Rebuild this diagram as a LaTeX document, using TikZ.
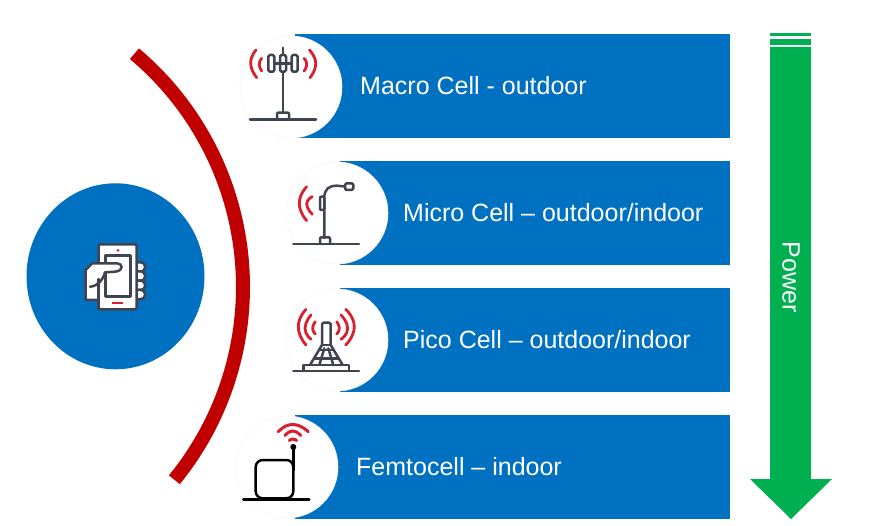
\documentclass[tikz,border=0pt]{standalone}
\usepackage{fontspec}
\usetikzlibrary{shapes.geometric}
\setmainfont{Liberation Sans}
\definecolor{bandblue}{HTML}{0070C0}
\definecolor{arcred}{HTML}{C00000}
\definecolor{powergreen}{HTML}{00B050}
\definecolor{iconred}{HTML}{D9202E}
\definecolor{icongray}{HTML}{3F4450}
\tikzset{
  band/.style={fill=bandblue,draw=none,inner sep=0pt,minimum height=104pt,anchor=west,text width=0pt},
  disc/.style={circle,fill=white,draw=black!4,line width=.6pt,inner sep=0pt,minimum size=102pt},
  bandtext/.style={text=white,font=\fontsize{25pt}{28pt}\selectfont,inner sep=0pt,anchor=west},
  wave/.style={draw=iconred,line width=2.8pt,line cap=round,smooth,tension=1},
  wire/.style={draw=icongray,line width=2.5pt,line cap=round,line join=round},
  blackwire/.style={draw=black,line width=2.5pt,line cap=round,line join=round},
}
\begin{document}
\begin{tikzpicture}[x=1pt,y=-1pt]
\useasboundingbox (0,0) rectangle (891,526);
\fill[white] (0,0) rectangle (891,526);
% hub
\node[ellipse,fill=bandblue,inner sep=0pt,minimum width=178pt,minimum height=186pt] (hub) at (115.5,276.3) {};
% red arc
\draw[arcred,line width=14pt] plot[domain=-49.9:39.2,samples=80,smooth] ({-62+305*cos(\x)},{287+305*sin(\x)});
% bands
\node[band,minimum width=435pt] (b1) at (295,86) {};
\node[band,minimum width=390pt] (b2) at (340,213) {};
\node[band,minimum width=390pt] (b3) at (340,340) {};
\node[band,minimum width=435pt] (b4) at (295,467) {};
\node[disc] (c1) at (291,87) {};
\node[disc] (c2) at (337,213) {};
\node[disc] (c3) at (337,340) {};
\node[disc] (c4) at (287,467) {};
\node[bandtext] (t1) at (360,85.5) {Macro Cell - outdoor};
\node[bandtext] (t2) at (403,212.5) {Micro Cell – outdoor/indoor};
\node[bandtext] (t3) at (403,339.5) {Pico Cell – outdoor/indoor};
\node[bandtext] (t4) at (356,466.5) {Femtocell – indoor};
% power arrow
\fill[powergreen] (770,47) -- (811,47) -- (811,479) -- (832,479) -- (791,519) -- (750,479) -- (770,479) -- cycle;
\fill[powergreen] (770,39) rectangle (811,45);
\fill[powergreen] (770,33) rectangle (811,36.5);
\node[text=white,font=\fontsize{25pt}{28pt}\selectfont,rotate=-90,inner sep=0pt] (power) at (791,277) {Power};
% macro icon
\draw[wire] (250,119.7) -- (316,119.7);
\draw[wire] (283,47.7) -- (283,113);
\draw[wire,rounded corners=1pt] (277,119.7) -- (277,112.7) -- (289,112.7) -- (289,119.7);
\draw[wire,fill=white,rounded corners=1.5pt] (268.3,55) rectangle (274.3,71.7);
\draw[wire,fill=white,rounded corners=1.5pt] (280,55) rectangle (286,71.7);
\draw[wire,fill=white,rounded corners=1.5pt] (291.7,55) rectangle (297.7,71.7);
\draw[wire] (274.3,63.3) -- (291.7,63.3);
\draw[wave] plot coordinates {(256,50) (250.7,63.3) (256.7,77.7)};
\draw[wave] plot coordinates {(261.7,58.3) (259.3,64.3) (261.7,71)};
\draw[wave] plot coordinates {(309.3,50) (315.7,63.3) (310,77.7)};
\draw[wave] plot coordinates {(304,58.3) (306.7,64.3) (304,71)};
% micro icon
\draw[wire] (293.3,244) -- (359,244);
\draw[wire] (324.3,238) -- (324.3,198) .. controls (324.3,189) and (329,185.7) .. (336.7,185.7) -- (345,186.5);
\draw[wire,fill=white,rounded corners=1.5pt] (345,183.3) rectangle (353.3,190);
\draw[wire,fill=white,rounded corners=1pt] (320,196.7) rectangle (324.3,210);
\draw[wire,rounded corners=1pt] (320,244) -- (320,237.3) -- (330,237.3) -- (330,244);
\draw[wave] plot coordinates {(306.7,186.7) (299.3,203.3) (306.7,220.7)};
\draw[wave] plot coordinates {(312.3,196.7) (306.7,204) (312.3,214.3)};
% pico icon
\draw[wire] (293.3,371) -- (359,371);
\draw[wire] (303.3,371) -- (303.3,365) -- (349,365) -- (349,371);
\draw[wire,rounded corners=1.5pt] (322,345) -- (322,322.7) -- (330.7,322.7) -- (330.7,345);
\draw[wire] (322,345) -- (330.7,345);
\draw[wire] (322,345) -- (310,365) (330.7,345) -- (342.7,365);
\draw[wire] (324.3,348.3) -- (319.3,365) (328.3,348.3) -- (333.3,365);
\draw[wire] (315,358.3) -- (338.3,358.3);
\draw[wire] (320,350) -- (332.7,350);
\draw[wave] plot coordinates {(306,309.3) (298.3,326.7) (306,345)};
\draw[wave] plot coordinates {(311,315) (305,328.3) (311,339.3)};
\draw[wave] plot coordinates {(315.3,321.7) (312.7,328.3) (315.3,334)};
\draw[wave] plot coordinates {(345.7,309.3) (354.3,326.7) (345.7,345)};
\draw[wave] plot coordinates {(341,315) (347.7,328.3) (341,339.3)};
\draw[wave] plot coordinates {(336.7,321.7) (339.3,328.3) (336.7,334)};
% femto icon
\draw[blackwire] (243.3,499.3) -- (309.3,499.3);
\draw[blackwire,rounded corners=7pt] (255.7,460) rectangle (293.3,498.3);
\draw[blackwire] (293.3,470) -- (293.3,448);
\fill[black] (293.3,447) circle (3pt);
\draw[wave,line width=3pt] plot coordinates {(278.3,431.7) (292.7,424.5) (308.3,431.7)};
\draw[wave,line width=3pt] plot coordinates {(285,435.5) (292.7,431) (300.7,435.5)};
\draw[wave,line width=3pt] plot coordinates {(289.3,440.5) (292.7,439) (296.7,440.5)};
% phone icon
\foreach \fy in {262.3,271.5,280.7,289.9}
  \draw[wire,fill=white,rounded corners=4pt] (134,\fy) -- (145,\fy) -- (145,\fy+9.2) -- (134,\fy+9.2);
\draw[wire,fill=white,rounded corners=2pt] (98.7,244.3) rectangle (136.7,309.3);
\draw[wire,fill=white] (105.7,255.7) rectangle (130.7,296.7);
\fill[iconred] (118,250.3) circle (1.5pt);
\fill[iconred] (112.3,301.7) rectangle (123.3,304.3);
\fill[white] (85.7,300) -- (85.7,270) -- (92.3,263.3) -- (117,263.3) .. controls (123,263.3) and (124,271) .. (115,271.7) -- (105,272.3) -- (100,281.7) -- (98.7,300) -- cycle;
\draw[wire] (98.7,300) -- (85.7,300) -- (85.7,270) -- (92.3,263.3) -- (117,263.3) .. controls (123,263.3) and (124,271) .. (115,271.7) -- (105,272.3);
\draw[wire] (105,272.3) .. controls (103,280) and (98,286) .. (90,286.7);
\draw[wire] (98.7,279) -- (98.7,309.3);
\end{tikzpicture}
\end{document}
